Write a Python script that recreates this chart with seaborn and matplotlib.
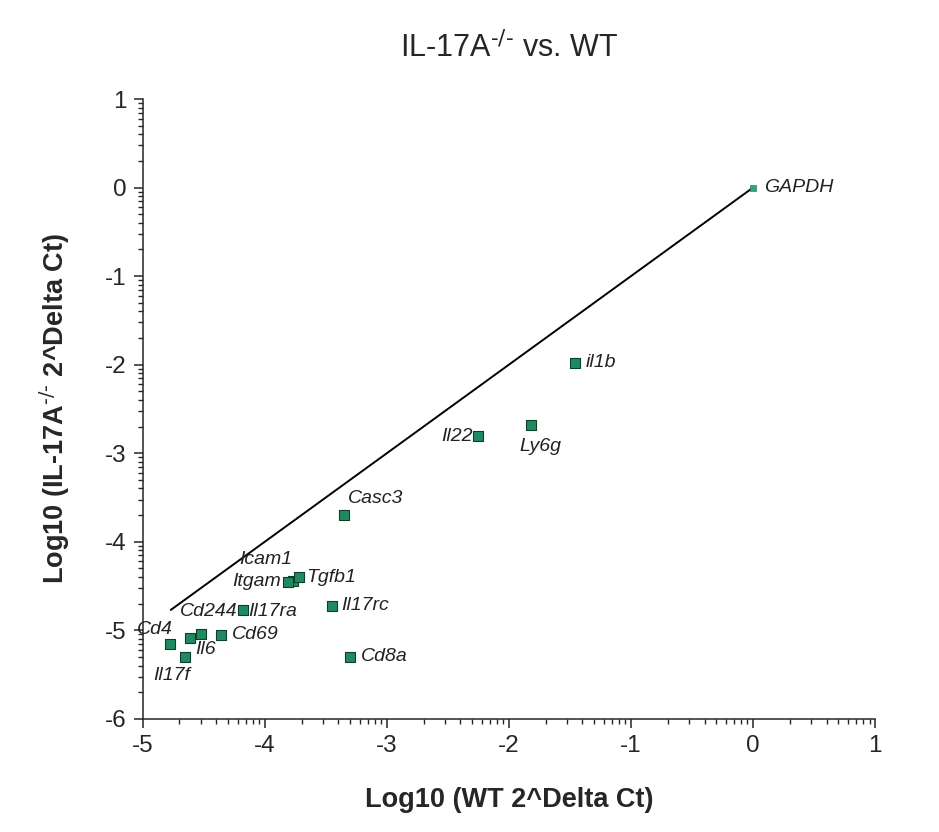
import numpy as np
import pandas as pd
import matplotlib
matplotlib.use("Agg")
import matplotlib.pyplot as plt
import seaborn as sns
from matplotlib.ticker import FixedLocator

# gene expression, log10(2^Delta Ct)
genes = ["GAPDH", "il1b", "Ly6g", "Il22", "Casc3", "Icam1", "Itgam", "Tgfb1",
         "Il17rc", "Il17ra", "Cd244", "Cd69", "Il6", "Cd4", "Il17f", "Cd8a"]
wt = [0.0, -1.46, -1.82, -2.25, -3.35, -3.77, -3.81, -3.72,
      -3.45, -4.18, -4.52, -4.36, -4.61, -4.78, -4.65, -3.30]
ko = [0.0, -1.98, -2.68, -2.81, -3.70, -4.44, -4.45, -4.40,
      -4.72, -4.77, -5.04, -5.05, -5.09, -5.15, -5.30, -5.30]

# identity line
line_x = [-4.77, 0.0]

# label offsets in pixels (dx, dy, ha)
offsets = {
    "GAPDH": (11, 0, "left"), "il1b": (11, 0, "left"), "Ly6g": (-12, -22, "left"),
    "Il22": (-6, 0, "right"), "Casc3": (4, 17, "left"), "Icam1": (-1, 21, "right"),
    "Itgam": (-7, 0, "right"), "Tgfb1": (7, 0, "left"), "Il17rc": (9, 0, "left"),
    "Il17ra": (5, -2, "left"), "Cd244": (36, 22, "right"), "Cd69": (11, 0, "left"),
    "Il6": (5, -11, "left"), "Cd4": (3, 14, "right"), "Il17f": (-14, -19, "center"),
    "Cd8a": (11, 0, "left"),
}

df = pd.DataFrame({"gene": genes, "wt": wt, "ko": ko})

sns.set_theme(style="ticks")
plt.rcParams["font.family"] = ["Liberation Sans", "DejaVu Sans"]
plt.rcParams["mathtext.default"] = "regular"
plt.rcParams["axes.unicode_minus"] = False

fig = plt.figure(figsize=(9.39, 8.32), dpi=100)
ax = fig.add_axes([0.152, 0.136, 0.780, 0.745])

ax.plot(line_x, line_x, color="black", lw=1.4, zorder=1)

rest = df[df["gene"] != "GAPDH"]
sns.scatterplot(data=rest, x="wt", y="ko", marker="s", s=42, color="#1f8a60",
                edgecolor="#0d3f2c", linewidth=0.8, ax=ax, zorder=3)
sns.scatterplot(data=df[df["gene"] == "GAPDH"], x="wt", y="ko", marker="s", s=14,
                color="#2fa585", edgecolor="#1f8a60", linewidth=0.5, ax=ax, zorder=3)

for g, x, y in zip(genes, wt, ko):
    dx, dy, ha = offsets[g]
    ax.annotate(g, (x, y), xytext=(dx, dy), textcoords="offset pixels",
                ha=ha, va="center", fontsize=14, fontstyle="italic", color="#222222")

ax.set_xlim(-5, 1)
ax.set_ylim(-6, 1)
ax.set_xticks(range(-5, 2))
ax.set_yticks(range(-6, 2))
minor = [m + np.log10(k) for m in range(-6, 1) for k in range(2, 10)]
ax.xaxis.set_minor_locator(FixedLocator([v for v in minor if -5 < v < 1]))
ax.yaxis.set_minor_locator(FixedLocator([v for v in minor if -6 < v < 1]))
ax.tick_params(which="major", length=6.5, width=1.1, labelsize=17.5, direction="out", pad=5)
ax.tick_params(which="minor", length=3.5, width=1.0, direction="out")

sns.despine(ax=ax)
for s in ["left", "bottom"]:
    ax.spines[s].set_linewidth(1.1)

ax.set_xlabel("Log10 (WT 2^Delta Ct)", fontsize=19.5, fontweight="bold", labelpad=22)
ax.set_ylabel(r"Log10 (IL-17A$^{\text{-/-}}$ 2^Delta Ct)", fontsize=19.5,
              fontweight="bold", labelpad=24)
ax.set_title(r"IL-17A$^{\text{-/-}}$ vs. WT", fontsize=22, pad=30)

fig.savefig("out.png", dpi=100)
